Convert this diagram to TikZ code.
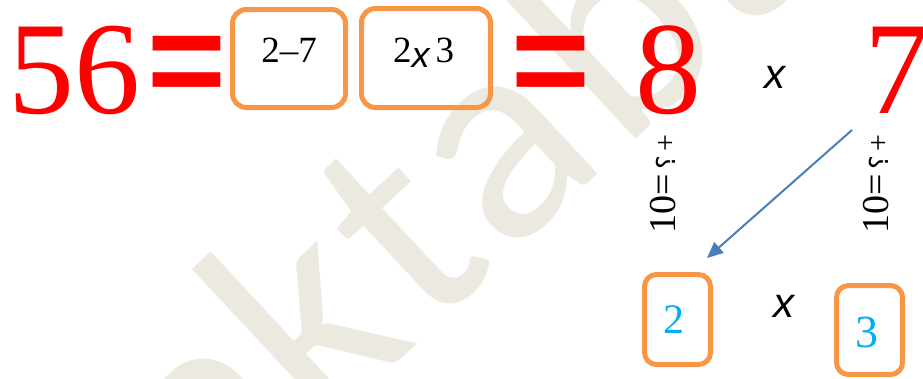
\documentclass[tikz,border=0pt]{standalone}
\usepackage{fontspec}
\setmainfont{Liberation Serif}
\setsansfont{Liberation Sans}
\newfontfamily\serifdig{Liberation Serif}
\newfontfamily\sanssign{Liberation Sans}
\newfontfamily\wmfont[LetterSpace=4]{Carlito}
\newfontfamily\arabicfont[Script=Arabic]{DejaVu Sans}
\usetikzlibrary{arrows.meta}
\definecolor{boxorange}{HTML}{F79646}
\definecolor{arrowblue}{HTML}{4A7EBB}
\definecolor{digitcyan}{HTML}{00B0F0}
\definecolor{wmbeige}{HTML}{ECEAE0}
\definecolor{bigred}{HTML}{FF0000}
\begin{document}
\begin{tikzpicture}[x=1pt,y=-1pt,
  every node/.style={inner sep=0pt,outer sep=0pt},
  wmark/.style={text=wmbeige,font=\wmfont\fontsize{300}{300}\selectfont,rotate=43},
  numbox/.style={draw=boxorange,line width=5pt,rounded corners=14pt},
  smallbox/.style={draw=boxorange,line width=5pt,rounded corners=12pt},
  reddigit/.style={text=bigred,font=\serifdig\fontsize{132}{132}\selectfont,anchor=base},
  redeq/.style={text=bigred,font=\sanssign\bfseries\fontsize{135}{135}\selectfont},
  boxtext/.style={font=\serifdig\fontsize{37}{37}\selectfont,anchor=base},
  timesign/.style={font=\sanssign\itshape\fontsize{42}{42}\selectfont},
  cyandigit/.style={text=digitcyan,anchor=base},
  rotlabel/.style={rotate=90,anchor=base west,font=\serifdig\fontsize{38}{38}\selectfont},
  link/.style={draw=arrowblue,line width=2pt,-{Triangle[length=16pt,width=14pt]}}
]
\useasboundingbox[fill=white] (0,0) rectangle (923,378);
% watermark
\node[wmark,anchor=base west] (wmk) at (320,434) {ktaba};
\node[wmark,anchor=base east] (wmm) at (320,434) {ma};
% top row
\node[reddigit] (n56) at (75,113) {56};
\node[redeq] (eq1) at (186.5,71.5) {=};
\node[numbox,minimum width=113pt,minimum height=98pt] (b1) at (289,58.5) {};
\node[boxtext] (t1) at (289,62) {2–7};
\node[numbox,minimum width=129pt,minimum height=99pt] (b2) at (426,58) {};
\node[boxtext,anchor=base west] (t2) at (393,62) {2\raisebox{-5pt}{\sanssign\itshape\fontsize{36}{36}\selectfont x}\,3};
\node[redeq] (eq2) at (551,71.5) {=};
\node[reddigit] (n8) at (668,113) {8};
\node[timesign] (m1) at (775,77) {x};
\node[reddigit,anchor=base west] (n7) at (864,113) {7};
% rotated labels
\node[rotlabel] (l1) at (675,233) {10=\hspace{4pt}{\arabicfont\fontsize{26}{26}\selectfont ؟}\hspace{4pt}{\fontsize{30}{30}\selectfont +}};
\node[rotlabel] (l2) at (888,233) {10=\hspace{4pt}{\arabicfont\fontsize{26}{26}\selectfont ؟}\hspace{4pt}{\fontsize{30}{30}\selectfont +}};
% arrow
\coordinate (aS) at (852,130);
\coordinate (aE) at (707,258);
\draw[link] (aS) -- (aE);
% bottom row
\node[smallbox,minimum width=66pt,minimum height=90pt] (b3) at (677.5,319.5) {};
\node[cyandigit,font=\serifdig\fontsize{42}{42}\selectfont] (d2) at (673.5,333) {2};
\node[timesign] (m2) at (784,306) {x};
\node[smallbox,minimum width=66pt,minimum height=89pt] (b4) at (869.5,330) {};
\node[cyandigit,font=\serifdig\fontsize{46}{46}\selectfont] (d3) at (866.5,347) {3};
\end{tikzpicture}
\end{document}
